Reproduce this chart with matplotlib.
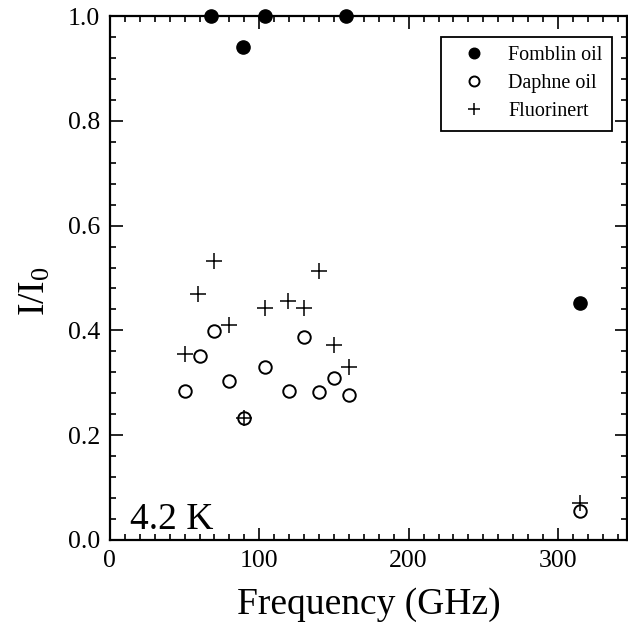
import matplotlib
matplotlib.use('Agg')
import matplotlib.pyplot as plt
from matplotlib.ticker import MultipleLocator

plt.rcParams['font.family'] = 'Liberation Serif'
plt.rcParams['mathtext.fontset'] = 'custom'
plt.rcParams['mathtext.rm'] = 'Liberation Serif'

# Fomblin oil (filled circles)
f_fomblin = [68, 89, 104, 158, 315]
i_fomblin = [1.0, 0.94, 1.0, 1.0, 0.452]

# Daphne oil (open circles)
f_daphne = [50, 60, 70, 80, 90, 104, 120, 130, 140, 150, 160, 315]
i_daphne = [0.284, 0.351, 0.398, 0.304, 0.233, 0.331, 0.284, 0.387, 0.282, 0.310, 0.276, 0.056]

# Fluorinert (plus)
f_fluor = [50, 59, 70, 80, 90, 104, 119, 130, 140, 150, 160, 315]
i_fluor = [0.355, 0.469, 0.532, 0.411, 0.233, 0.442, 0.457, 0.442, 0.514, 0.372, 0.331, 0.070]

fig = plt.figure(figsize=(6.28, 6.42), dpi=100)
ax = fig.add_axes([0.175, 0.159, 0.823, 0.816])

ax.plot(f_fomblin, i_fomblin, 'o', color='black', ms=9.5, label='Fomblin oil', clip_on=False)
ax.plot(f_daphne, i_daphne, 'o', mfc='none', mec='black', mew=1.4, ms=9, label='Daphne oil', clip_on=False)
ax.plot(f_fluor, i_fluor, '+', color='black', mew=1.1, ms=11, label='Fluorinert', clip_on=False)

ax.set_xlim(0, 346)
ax.set_ylim(0, 1.0)
ax.xaxis.set_major_locator(MultipleLocator(100))
ax.xaxis.set_minor_locator(MultipleLocator(10))
ax.yaxis.set_major_locator(MultipleLocator(0.2))
ax.yaxis.set_minor_locator(MultipleLocator(0.04))
ax.yaxis.set_major_formatter(matplotlib.ticker.FormatStrFormatter('%.1f'))
ax.tick_params(which='both', direction='in', top=True, right=True, labelsize=18.5, width=1.2)
ax.tick_params(which='major', length=9, pad=7)
ax.tick_params(which='minor', length=4.5)
for s in ax.spines.values():
    s.set_linewidth(1.6)

ax.set_xlabel('Frequency (GHz)', fontsize=27)
ax.xaxis.set_label_coords(0.5, -0.09)
ax.set_ylabel(r'I/I$\mathregular{_0}$', fontsize=27)
ax.yaxis.set_label_coords(-0.11, 0.475)

ax.text(0.038, 0.02, '4.2 K', transform=ax.transAxes, fontsize=27)

leg = ax.legend(loc='upper right', bbox_to_anchor=(0.971, 0.960), borderaxespad=0,
                fontsize=14.5, frameon=True, fancybox=False, edgecolor='black', framealpha=1,
                handletextpad=0.5, borderpad=0.45, labelspacing=0.45, handlelength=2.4,
                markerscale=0.8)
leg.get_frame().set_linewidth(1.3)

fig.savefig('out.png', dpi=100)
